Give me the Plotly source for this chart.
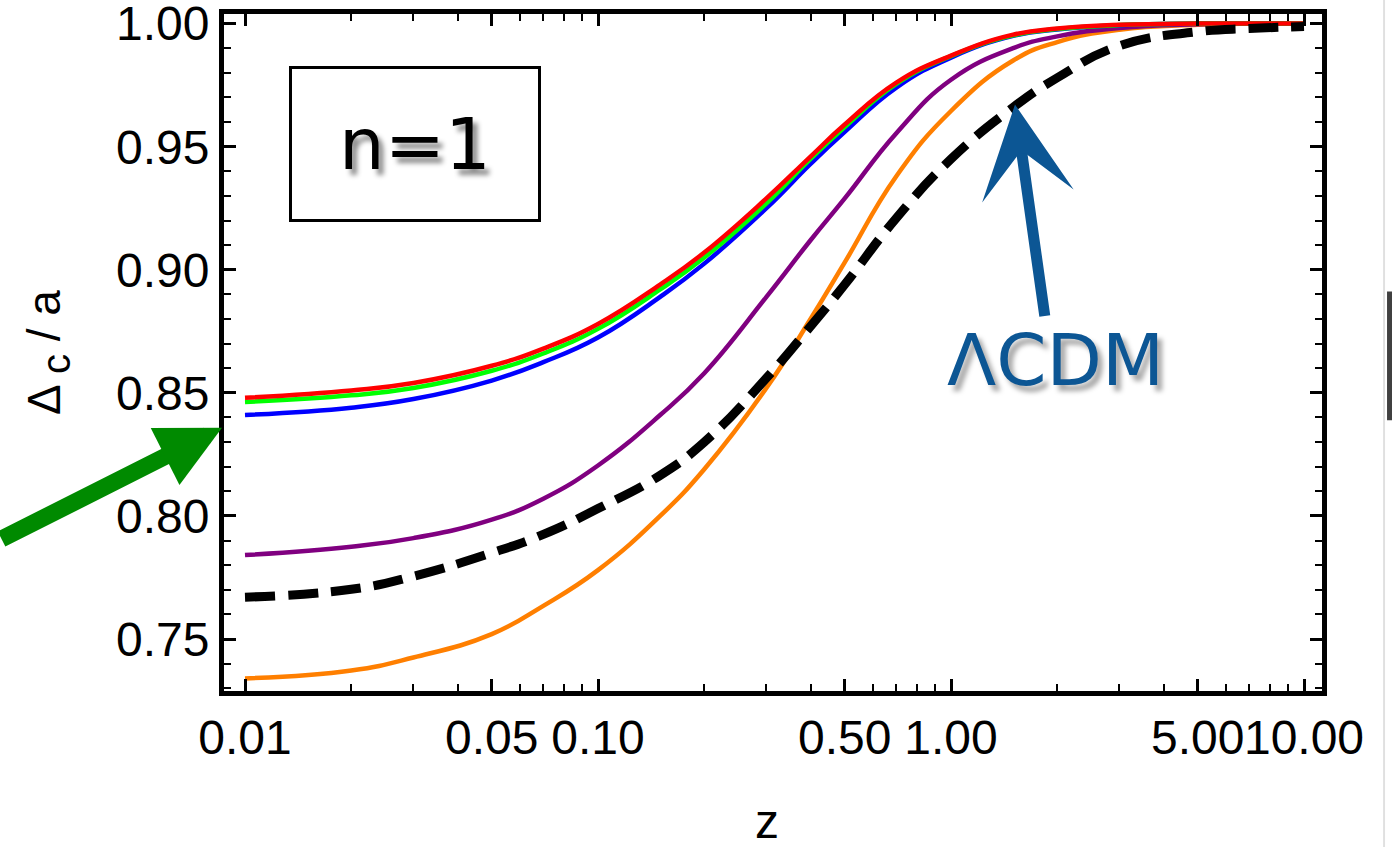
import plotly.graph_objects as go

# ---------------- data ----------------
z = [0.01, 0.02, 0.03, 0.05, 0.07, 0.1, 0.15, 0.2, 0.3, 0.4, 0.5, 0.7, 1, 1.5, 2, 3, 5, 7, 10]

orange = [0.734, 0.7372, 0.7425, 0.752, 0.7635, 0.778, 0.800, 0.819, 0.852, 0.880, 0.903, 0.938,
          0.9645, 0.985, 0.9925, 0.9975, 0.9995, 1.0, 1.0]
purple = [0.7841, 0.7875, 0.791, 0.7985, 0.807, 0.8205, 0.841, 0.858, 0.889, 0.912, 0.929, 0.9555,
          0.9772, 0.990, 0.9948, 0.9982, 0.9997, 1.0, 1.0]
blue = [0.841, 0.844, 0.8475, 0.855, 0.8625, 0.8725, 0.889, 0.9025, 0.925, 0.943, 0.956, 0.974,
        0.9862, 0.995, 0.9976, 0.9993, 1.0, 1.0, 1.0]
green = [0.8463, 0.849, 0.852, 0.859, 0.866, 0.876, 0.892, 0.905, 0.927, 0.945, 0.958, 0.9755,
         0.9868, 0.9952, 0.9978, 0.9994, 1.0, 1.0, 1.0]
red = [0.848, 0.851, 0.854, 0.861, 0.868, 0.878, 0.894, 0.907, 0.929, 0.946, 0.959, 0.976,
       0.987, 0.9955, 0.998, 0.9995, 1.0, 1.0, 1.0]
lcdm = [0.767, 0.7702, 0.7755, 0.785, 0.7925, 0.803, 0.8165, 0.830, 0.856, 0.877, 0.894, 0.921,
        0.945, 0.966, 0.978, 0.991, 0.9967, 0.998, 0.9988]

x_tickvals = [0.01, 0.05, 0.1, 0.5, 1, 5, 10]
x_ticktext = ["0.01", "0.05", "0.10", "0.50", "1.00", "5.00", "10.00"]
x_minor = [0.02, 0.03, 0.04, 0.06, 0.07, 0.08, 0.09,
           0.2, 0.3, 0.4, 0.6, 0.7, 0.8, 0.9,
           2, 3, 4, 6, 7, 8, 9]
y_tickvals = [0.75, 0.80, 0.85, 0.90, 0.95, 1.00]
y_ticktext = ["0.75", "0.80", "0.85", "0.90", "0.95", "1.00"]

# ---------------- figure ----------------
FONT = "Liberation Sans, Arial, Helvetica, sans-serif"
fig = go.Figure()

series = [
    (orange, "rgb(255,127,0)"),
    (purple, "rgb(128,0,128)"),
    (blue, "rgb(0,0,255)"),
    (green, "rgb(0,255,0)"),
    (red, "rgb(255,0,0)"),
]
for ys, col in series:
    fig.add_trace(go.Scatter(x=z, y=ys, mode="lines",
                             line=dict(color=col, width=4.5, shape="spline", smoothing=1.3),
                             showlegend=False, hoverinfo="skip"))
fig.add_trace(go.Scatter(x=z, y=lcdm, mode="lines",
                         line=dict(color="black", width=9, dash="30px,13px", shape="spline", smoothing=1.3),
                         showlegend=False, hoverinfo="skip"))

axis_common = dict(
    showline=True, linecolor="black", linewidth=5, mirror="ticks",
    ticks="inside", tickcolor="black", tickwidth=3, ticklen=12,
    showgrid=False, zeroline=False, automargin=False, ticklabeloverflow="allow",
    tickfont=dict(family=FONT, size=48, color="black"),
)

fig.update_xaxes(
    type="log", range=[-2.0595, 1.051],
    tickmode="array", tickvals=x_tickvals, ticktext=x_ticktext, tickangle=0,
    minor=dict(tickmode="array", tickvals=x_minor, ticks="inside", ticklen=7,
               tickwidth=2, tickcolor="black", showgrid=False),
    **axis_common,
)
fig.update_yaxes(
    range=[0.7289, 1.0039],
    tickmode="array", tickvals=y_tickvals, ticktext=y_ticktext,
    minor=dict(dtick=0.01, tick0=0.70, ticks="inside", ticklen=7,
               tickwidth=2, tickcolor="black", showgrid=False),
    title=dict(text="Δ <sub><span style='font-size:40px'>c</span></sub> / a",
               font=dict(family=FONT, size=46, color="black"), standoff=42),
    **axis_common,
)

annotations = [
    # x-axis title
    dict(xref="paper", yref="paper", x=0.4945, y=-0.193, xanchor="center", yanchor="middle",
         text="z", showarrow=False, font=dict(family=FONT, size=48, color="black")),
    # n=1 box
    dict(xref="paper", yref="paper", x=0.174, y=0.808, xanchor="center", yanchor="middle",
         text="n=1", showarrow=False, width=246, height=150, borderpad=0,
         bordercolor="black", borderwidth=3,
         font=dict(family="DejaVu Sans", size=72, color="black",
                   shadow="5px 6px 5px rgba(0,0,0,0.45)")),
    # LCDM label
    dict(xref="paper", yref="paper", x=0.757, y=0.489, xanchor="center", yanchor="middle",
         text="ΛCDM", showarrow=False,
         font=dict(family="DejaVu Sans", size=72, color="rgb(12,86,148)",
                   shadow="5px 6px 5px rgba(0,0,0,0.35)")),
    # blue arrow to LCDM curve
    dict(xref="paper", yref="paper", x=0.7204, y=0.8662, text="", showarrow=True,
         ax=30, ay=213, arrowhead=3, arrowwidth=11, arrowsize=1.4,
         arrowcolor="rgb(12,86,148)", standoff=0),
    # green arrow on the left
    dict(xref="paper", yref="paper", x=-0.0018, y=0.3888, text="", showarrow=True,
         ax=-265, ay=112, arrowhead=2, arrowwidth=17, arrowsize=0.75,
         arrowcolor="rgb(0,138,0)", standoff=0),
]

fig.update_layout(
    width=1392, height=847,
    margin=dict(l=224, r=70, t=14, b=156),
    paper_bgcolor="white", plot_bgcolor="white",
    annotations=annotations,
    shapes=[
        dict(type="line", xref="paper", yref="paper", x0=1.0565, x1=1.0565, y0=-0.25, y1=1.03,
             line=dict(color="rgba(0,0,0,0.12)", width=2)),
        dict(type="line", xref="paper", yref="paper", x0=1.0615, x1=1.0615, y0=0.40, y1=0.59,
             line=dict(color="rgba(0,0,0,0.75)", width=5)),
    ],
)

fig.write_html("out.html", config={"displayModeBar": False},
               post_script="document.body.style.margin='0';document.body.style.overflow='hidden';")
